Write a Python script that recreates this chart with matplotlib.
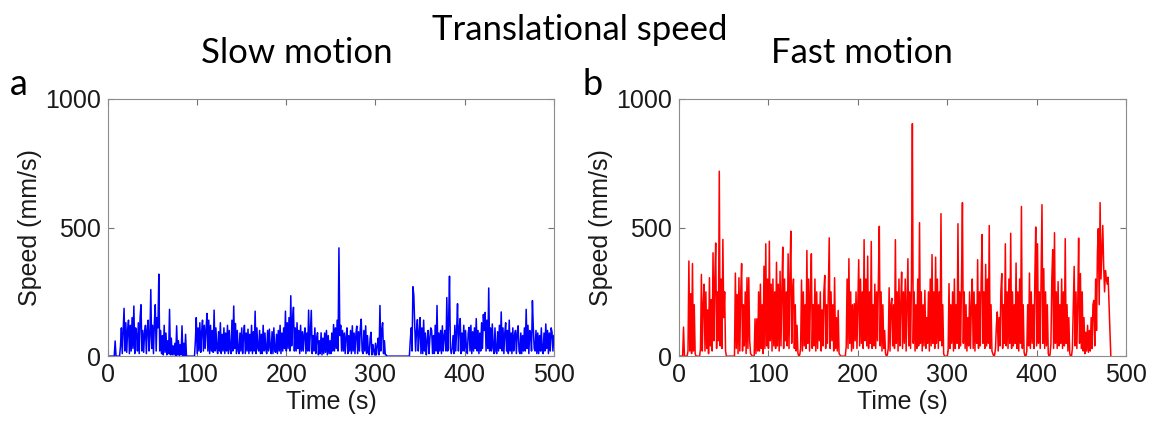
import numpy as np
import matplotlib
matplotlib.use("Agg")
import matplotlib.pyplot as plt

# velocidad de traslacion, una muestra por segundo
slow_speed = [
    0, 0, 0, 0, 0, 0, 0, 0, 59, 0,
    0, 0, 0, 0, 40, 110, 10, 95, 186, 20,
    130, 15, 100, 140, 10, 120, 20, 150, 30, 195,
    10, 110, 85, 20, 130, 10, 150, 200, 20, 100,
    15, 90, 120, 10, 105, 140, 20, 80, 259, 30,
    120, 10, 130, 200, 20, 150, 110, 319, 20, 100,
    10, 80, 5, 120, 15, 90, 5, 60, 10, 182,
    5, 70, 5, 40, 5, 50, 0, 118, 5, 60,
    0, 45, 5, 118, 0, 50, 0, 85, 0, 0,
    0, 0, 0, 0, 0, 0, 0, 0, 60, 150,
    10, 110, 20, 130, 15, 95, 140, 20, 120, 30,
    105, 166, 20, 140, 10, 120, 20, 100, 15, 179,
    20, 110, 30, 10, 95, 20, 130, 10, 85, 20,
    110, 10, 90, 20, 120, 10, 100, 25, 10, 140,
    20, 195, 30, 127, 10, 100, 20, 10, 90, 20,
    110, 10, 80, 120, 10, 90, 20, 105, 10, 85,
    20, 120, 10, 95, 20, 175, 10, 110, 30, 20,
    100, 10, 85, 10, 120, 20, 90, 25, 10, 100,
    20, 105, 30, 10, 95, 10, 110, 20, 15, 85,
    10, 100, 20, 120, 10, 90, 20, 110, 30, 175,
    20, 130, 30, 150, 20, 235, 40, 140, 190, 20,
    110, 20, 130, 30, 100, 10, 120, 20, 95, 20,
    85, 110, 10, 90, 20, 179, 20, 100, 178, 10,
    80, 20, 110, 10, 70, 91, 5, 60, 10, 91,
    5, 70, 10, 90, 15, 100, 5, 80, 10, 60,
    10, 90, 20, 123, 20, 110, 30, 140, 20, 421,
    80, 120, 20, 100, 20, 90, 10, 75, 110, 10,
    80, 20, 100, 10, 118, 20, 90, 10, 85, 117,
    10, 95, 20, 110, 144, 20, 10, 100, 20, 118,
    10, 80, 15, 5, 70, 93, 5, 45, 20, 5,
    50, 5, 40, 70, 5, 197, 20, 100, 130, 10,
    60, 5, 5, 0, 0, 0, 0, 0, 0, 0,
    0, 0, 0, 0, 0, 0, 0, 0, 0, 0,
    0, 0, 0, 0, 0, 0, 0, 0, 0, 60,
    110, 20, 270, 236, 120, 20, 100, 142, 20, 90,
    150, 10, 110, 10, 140, 20, 90, 5, 60, 100,
    10, 70, 110, 100, 10, 80, 10, 120, 20, 197,
    10, 90, 20, 100, 10, 118, 20, 80, 100, 20,
    228, 20, 130, 311, 30, 10, 30, 80, 10, 120,
    20, 100, 204, 20, 110, 146, 10, 90, 20, 120,
    20, 100, 30, 10, 90, 112, 20, 120, 10, 95,
    20, 110, 30, 146, 20, 100, 10, 90, 20, 130,
    30, 162, 100, 170, 20, 140, 30, 265, 20, 110,
    20, 125, 30, 10, 110, 20, 10, 95, 20, 120,
    30, 172, 20, 110, 10, 90, 130, 20, 100, 10,
    140, 20, 90, 10, 110, 20, 80, 100, 10, 90,
    118, 20, 10, 90, 10, 80, 20, 110, 20, 182,
    30, 120, 10, 100, 90, 20, 216, 110, 30, 20,
    100, 10, 90, 10, 80, 20, 110, 20, 10, 90,
    20, 125, 30, 100, 10, 90, 20, 110, 93, 20,
    80,
]

fast_speed = [
    0, 0, 0, 0, 0, 113, 0, 0, 0, 0,
    20, 370, 20, 243, 10, 360, 20, 200, 10, 0,
    0, 0, 0, 0, 30, 318, 20, 200, 280, 20,
    250, 30, 180, 10, 305, 40, 220, 20, 402, 60,
    300, 440, 30, 250, 60, 719, 40, 300, 30, 454,
    150, 250, 20, 0, 0, 0, 0, 0, 0, 0,
    0, 0, 0, 323, 30, 240, 10, 305, 20, 250,
    360, 20, 200, 40, 250, 10, 305, 30, 305, 60,
    10, 5, 0, 0, 0, 145, 10, 145, 20, 250,
    20, 280, 30, 200, 10, 350, 30, 437, 40, 300,
    30, 447, 60, 280, 20, 300, 40, 250, 30, 365,
    40, 280, 20, 330, 40, 250, 424, 30, 300, 60,
    250, 40, 398, 30, 300, 486, 50, 250, 300, 30,
    200, 20, 120, 10, 0, 5, 30, 296, 20, 250,
    40, 200, 30, 411, 50, 300, 20, 250, 398, 30,
    200, 40, 300, 20, 250, 30, 200, 60, 250, 20,
    180, 40, 250, 314, 30, 200, 50, 250, 460, 30,
    250, 60, 200, 20, 305, 30, 150, 20, 178, 10,
    5, 0, 0, 0, 0, 0, 0, 40, 300, 30,
    379, 50, 250, 20, 200, 30, 204, 60, 250, 30,
    200, 375, 40, 300, 50, 250, 30, 453, 60, 300,
    40, 389, 30, 250, 50, 446, 30, 200, 40, 280,
    30, 250, 60, 300, 505, 40, 250, 20, 200, 30,
    100, 10, 0, 5, 30, 266, 20, 200, 225, 40,
    200, 30, 453, 50, 250, 20, 300, 40, 200, 327,
    30, 250, 50, 300, 20, 200, 379, 40, 250, 30,
    300, 904, 50, 250, 20, 200, 30, 300, 40, 519,
    50, 250, 20, 200, 40, 256, 30, 150, 50, 250,
    20, 300, 40, 395, 50, 250, 30, 385, 50, 300,
    30, 250, 60, 554, 40, 200, 10, 0, 0, 0,
    0, 20, 282, 30, 200, 50, 250, 20, 300, 30,
    200, 50, 515, 30, 250, 40, 300, 597, 50, 250,
    30, 200, 20, 150, 40, 250, 30, 200, 300, 30,
    250, 20, 200, 50, 375, 30, 250, 40, 300, 473,
    50, 250, 30, 357, 40, 300, 50, 508, 30, 200,
    20, 10, 0, 5, 30, 120, 172, 20, 150, 40,
    250, 321, 30, 200, 50, 437, 40, 250, 30, 300,
    50, 478, 30, 250, 40, 200, 50, 362, 30, 250,
    20, 300, 50, 582, 30, 200, 15, 0, 0, 20,
    200, 40, 323, 30, 250, 50, 200, 30, 300, 502,
    40, 437, 50, 250, 30, 300, 589, 50, 340, 30,
    250, 40, 200, 10, 0, 5, 50, 300, 414, 30,
    480, 50, 250, 30, 290, 40, 200, 50, 300, 30,
    250, 40, 457, 50, 200, 20, 150, 10, 0, 0,
    30, 200, 349, 40, 250, 30, 200, 459, 50, 321,
    30, 250, 20, 150, 10, 93, 20, 120, 15, 100,
    20, 150, 30, 200, 217, 40, 300, 100, 400, 496,
    200, 597, 300, 400, 508, 350, 250, 333, 300, 280,
    307, 200, 100, 0,
]

slow_time = np.arange(len(slow_speed))
fast_time = np.arange(len(fast_speed))

xticks = [0, 100, 200, 300, 400, 500]
yticks = [0, 500, 1000]

title_font = "Lato"
tick_font = "Liberation Sans"

fig = plt.figure(figsize=(11.49, 4.23), dpi=100)
ax_a = fig.add_axes([0.094, 0.158, 0.388, 0.608])
ax_b = fig.add_axes([0.591, 0.158, 0.389, 0.608])

for ax, t, v, col in [(ax_a, slow_time, slow_speed, "#0000ff"),
                      (ax_b, fast_time, fast_speed, "#ff0000")]:
    ax.plot(t, v, color=col, linewidth=1.1)
    ax.set_xlim(0, 500)
    ax.set_ylim(0, 1000)
    ax.set_xticks(xticks)
    ax.set_yticks(yticks)
    ax.tick_params(direction="in", top=True, right=True, length=4, width=0.8,
                   colors="0.45", labelcolor="#1a1a1a", labelsize=18, pad=5)
    for lab in ax.get_xticklabels() + ax.get_yticklabels():
        lab.set_fontfamily(tick_font)
    for s in ax.spines.values():
        s.set_color("0.55")
        s.set_linewidth(0.8)
    ax.set_xlabel("Time (s)", fontsize=18, fontfamily=tick_font, color="#1a1a1a", labelpad=2)
    ax.set_ylabel("Speed (mm/s)", fontsize=18, fontfamily=tick_font, color="#1a1a1a", labelpad=2)

fig.text(0.505, 0.93, "Translational speed", ha="center", va="center", fontsize=25, fontfamily=title_font)
fig.text(0.258, 0.875, "Slow motion", ha="center", va="center", fontsize=25, fontfamily=title_font)
fig.text(0.750, 0.875, "Fast motion", ha="center", va="center", fontsize=25, fontfamily=title_font)
fig.text(0.016, 0.80, "a", ha="center", va="center", fontsize=26, fontfamily=title_font)
fig.text(0.516, 0.80, "b", ha="center", va="center", fontsize=26, fontfamily=title_font)

fig.savefig("out.png", dpi=100)
